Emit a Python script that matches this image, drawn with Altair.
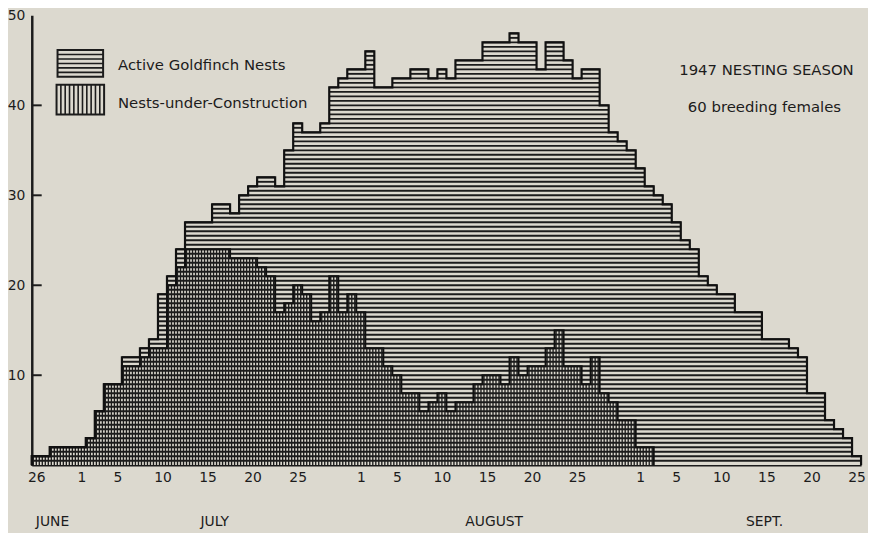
import altair as alt
import pandas as pd
import numpy as np

START = pd.Timestamp("1947-06-26")

# daily counts, 26 June .. 25 Sept 1947
active = [1, 1, 2, 2, 2, 2, 3, 6, 9, 9,
          12, 12, 13, 14, 19, 21, 24, 27, 27, 27,
          29, 29, 28, 30, 31, 32, 32, 31, 35, 38,
          37, 37, 38, 42, 43, 44, 44, 46, 42, 42,
          43, 43, 44, 44, 43, 44, 43, 45, 45, 45,
          47, 47, 47, 48, 47, 47, 44, 47, 47, 45,
          43, 44, 44, 40, 37, 36, 35, 33, 31, 30,
          29, 27, 25, 24, 21, 20, 19, 19, 17, 17,
          17, 14, 14, 14, 13, 12, 8, 8, 5, 4,
          3, 1]
construction = [1, 1, 2, 2, 2, 2, 3, 6, 9, 9,
                11, 11, 12, 13, 13, 20, 22, 24, 24, 24,
                24, 24, 23, 23, 23, 22, 21, 17, 18, 20,
                19, 16, 17, 21, 17, 19, 17, 13, 13, 11,
                10, 8, 8, 6, 7, 8, 6, 7, 7, 9,
                10, 10, 9, 12, 10, 11, 11, 13, 15, 11,
                11, 9, 12, 8, 7, 5, 5, 2, 2, 0,
                0, 0, 0, 0, 0, 0, 0, 0, 0, 0,
                0, 0, 0, 0, 0, 0, 0, 0, 0, 0,
                0, 0]

tick_dates = ["1947-06-26", "1947-07-01", "1947-07-05", "1947-07-10", "1947-07-15",
              "1947-07-20", "1947-07-25", "1947-08-01", "1947-08-05", "1947-08-10",
              "1947-08-15", "1947-08-20", "1947-08-25", "1947-09-01", "1947-09-05",
              "1947-09-10", "1947-09-15", "1947-09-20", "1947-09-25"]
y_labels = [10, 20, 30, 40, 50]
y_inner_ticks = [10, 20, 30, 40]
month_names = ["JUNE", "JULY", "AUGUST", "SEPT."]
month_anchor = ["1947-06-28", "1947-07-16", "1947-08-16", "1947-09-15"]
legend_text = ["Active Goldfinch Nests", "Nests-under-Construction"]
note_text = ["1947 NESTING SEASON", "60 breeding females"]

INK = "#1c1c1c"
PAPER = "#dcd9cf"
FONT = "DejaVu Sans"
W, H = 837, 454

n = len(active)
a = np.array(active)
c = np.array(construction)
tick_vals = [(pd.Timestamp(d) - START).days + 0.5 for d in tick_dates]
month_pos = [(pd.Timestamp(d) - START).days + 0.3 for d in month_anchor]

# horizontal hatching of active nests (runs of days at each half-unit level)
hrows = []
for L in np.arange(0.5, a.max() + 0.01, 0.5):
    mask = a >= L
    d = 0
    while d < n:
        if mask[d]:
            s = d
            while d < n and mask[d]:
                d += 1
            hrows.append({"x0": s, "x1": d, "y": float(L)})
        else:
            d += 1
hdf = pd.DataFrame(hrows)

# vertical hatching of nests under construction
vrows = []
for d in range(n):
    if c[d] > 0:
        for j in range(3):
            vrows.append({"x": d + (j + 0.5) / 3, "y0": 0, "y1": int(c[d])})
vdf = pd.DataFrame(vrows)


def outline(vals):
    vals = list(vals)
    last = max(i for i, v in enumerate(vals) if v > 0)
    pts = [{"i": 0, "x": 0, "y": 0}]
    for k in range(last + 1):
        pts.append({"i": k + 1, "x": k, "y": vals[k]})
    pts.append({"i": last + 2, "x": last + 1, "y": vals[last]})
    pts.append({"i": last + 3, "x": last + 1, "y": 0})
    return pd.DataFrame(pts)


oa = outline(active)
oc = outline(construction)

xs = alt.Scale(domain=[0, n], nice=False, zero=False)
ys = alt.Scale(domain=[0, 50], nice=False, zero=False)

x_axis = alt.Axis(values=tick_vals,
                  labelExpr="date(datetime(1947, 5, 26 + floor(datum.value)))",
                  tickSize=0, labelPadding=5, domainColor=INK, domainWidth=1.5, grid=False,
                  labelFontSize=14, labelColor=INK, labelFont=FONT, title=None)
y_axis = alt.Axis(values=y_labels, tickSize=0, labelPadding=7, domainColor=INK, domainWidth=2.5,
                  grid=False, labelFontSize=14, labelColor=INK, labelFont=FONT, title=None)

hatch_h = alt.Chart(hdf).mark_rule(color=INK, strokeWidth=1.9).encode(
    x=alt.X("x0:Q", scale=xs, axis=x_axis),
    x2="x1:Q",
    y=alt.Y("y:Q", scale=ys, axis=y_axis),
)

hatch_v = alt.Chart(vdf).mark_rule(color=INK, strokeWidth=1.35).encode(
    x=alt.X("x:Q", scale=xs, axis=None),
    y=alt.Y("y0:Q", scale=ys, axis=None),
    y2="y1:Q",
)

line_a = alt.Chart(oa).mark_line(interpolate="step-after", color="#111", strokeWidth=2.2).encode(
    x=alt.X("x:Q", scale=xs, axis=None), y=alt.Y("y:Q", scale=ys, axis=None), order="i:Q")
line_c = alt.Chart(oc).mark_line(interpolate="step-after", color="#111", strokeWidth=2.0).encode(
    x=alt.X("x:Q", scale=xs, axis=None), y=alt.Y("y:Q", scale=ys, axis=None), order="i:Q")

ticks = alt.Chart(pd.DataFrame({"v": y_inner_ticks})).mark_rule(color=INK, strokeWidth=2).encode(
    y=alt.Y("v:Q", scale=ys, axis=None), x=alt.value(0), x2=alt.value(10))

months = alt.Chart(pd.DataFrame({"m": month_names, "d": month_pos})).mark_text(
    fontSize=14, font=FONT, color=INK, baseline="middle").encode(
    x=alt.X("d:Q", scale=xs, axis=None), y=alt.value(H + 57), text="m:N")

# legend (pixel positions inside the plot area)
sw = pd.DataFrame({"x0": [26, 25], "x1": [72, 73], "y0": [35, 70], "y1": [62, 100]})
swatch = alt.Chart(sw).mark_rect(fill=PAPER, stroke=INK, strokeWidth=2).encode(
    x=alt.X("x0:Q", scale=None, axis=None), x2="x1:Q",
    y=alt.Y("y0:Q", scale=None, axis=None), y2="y1:Q")
lh = pd.DataFrame({"py": [35 + k * 27 / 6 for k in range(1, 6)]})
leg_h = alt.Chart(lh).mark_rule(color=INK, strokeWidth=1.6).encode(
    y=alt.Y("py:Q", scale=None, axis=None), x=alt.value(26), x2=alt.value(72))
lv = pd.DataFrame({"px": [25 + k * 48 / 11 for k in range(1, 11)]})
leg_v = alt.Chart(lv).mark_rule(color=INK, strokeWidth=1.6).encode(
    x=alt.X("px:Q", scale=None, axis=None), y=alt.value(70), y2=alt.value(100))
leg_t = alt.Chart(pd.DataFrame({"t": legend_text, "py": [50, 88.5]})).mark_text(
    align="left", baseline="middle", fontSize=15, font=FONT, color=INK).encode(
    x=alt.value(87), y=alt.Y("py:Q", scale=None, axis=None), text="t:N")

note = alt.Chart(pd.DataFrame({"t": note_text, "px": [741.5, 739.5], "py": [55, 93]})).mark_text(
    align="center", baseline="middle", fontSize=15, font=FONT, color=INK).encode(
    x=alt.X("px:Q", scale=None, axis=None), y=alt.Y("py:Q", scale=None, axis=None), text="t:N")

chart = alt.layer(hatch_h, hatch_v, line_a, line_c, ticks, months,
                  swatch, leg_h, leg_v, leg_t, note).resolve_scale(
    x="independent", y="independent"
).properties(
    width=W, height=H,
    autosize=alt.AutoSizeParams(type="none"),
    padding={"left": 24, "top": 5, "right": 7, "bottom": 66},
    background=PAPER,
).configure_view(stroke=None)

chart.save("out.html", embed_options={"renderer": "svg", "actions": False})
